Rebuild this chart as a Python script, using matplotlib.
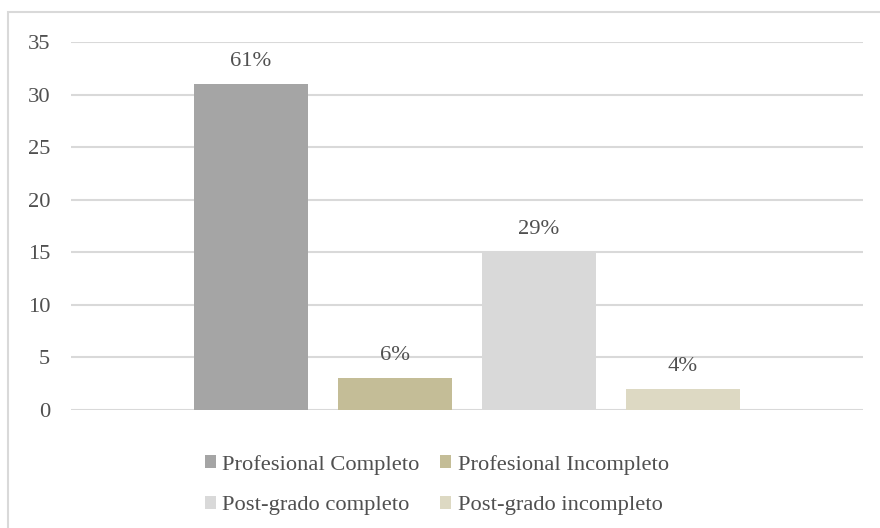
import matplotlib
matplotlib.use("Agg")
import matplotlib.pyplot as plt
from matplotlib.patches import Rectangle

series = ["Profesional Completo", "Profesional Incompleto",
          "Post-grado completo", "Post-grado incompleto"]
counts = [31, 3, 15, 2]
pct_labels = ["61%", "6%", "29%", "4%"]
colors = ["#A5A5A5", "#C4BD97", "#D9D9D9", "#DDD9C3"]
yticks = [0, 5, 10, 15, 20, 25, 30, 35]

text_col = "#505050"
grid_col = "#D9D9D9"
fs = 16.2
plt.rcParams["font.family"] = ["Liberation Serif", "DejaVu Serif"]

W, H = 880, 528
fig = plt.figure(figsize=(W / 100, H / 100), dpi=100)

# chart frame (left/top visible, right/bottom run off the canvas)
fig.patches.append(Rectangle((8 / W, -0.05), 1.05, (H - 12) / H + 0.05,
                             transform=fig.transFigure, fill=False,
                             edgecolor=grid_col, linewidth=1.5))

ax = fig.add_axes([71 / W, 1 - 410 / H, (863 - 71) / W, (410 - 42) / H])
ax.set_ylim(0, 35)
ax.set_xlim(-1.25, 4.25)
ax.set_yticks(yticks)
ax.set_xticks([])
for s in ax.spines.values():
    s.set_visible(False)
ax.grid(axis="y", color=grid_col, linewidth=1.5)
ax.set_axisbelow(True)
ax.tick_params(axis="y", length=0, pad=15, labelsize=fs, labelcolor=text_col)

handles = []
for i, (name, v, lab, c) in enumerate(zip(series, counts, pct_labels, colors)):
    b = ax.bar(i, v, width=0.79, color=c, label=name)
    handles.append(b)
    ax.annotate(lab, (i, v), xytext=(0, 9.5), textcoords="offset points",
                ha="center", va="bottom", fontsize=fs, color=text_col)

# legend fills row by row: reorder for column-major layout
order = [0, 2, 1, 3]
fig.legend(handles=[handles[k] for k in order],
           labels=[series[k] for k in order], loc="center",
           bbox_to_anchor=(437 / W, 1 - 485 / H), ncol=2, frameon=False,
           fontsize=fs, labelcolor=text_col, handlelength=0.48,
           handleheight=0.48, handletextpad=0.28, columnspacing=0.92,
           labelspacing=0.95)

fig.savefig("out.png", dpi=100, facecolor="white")
